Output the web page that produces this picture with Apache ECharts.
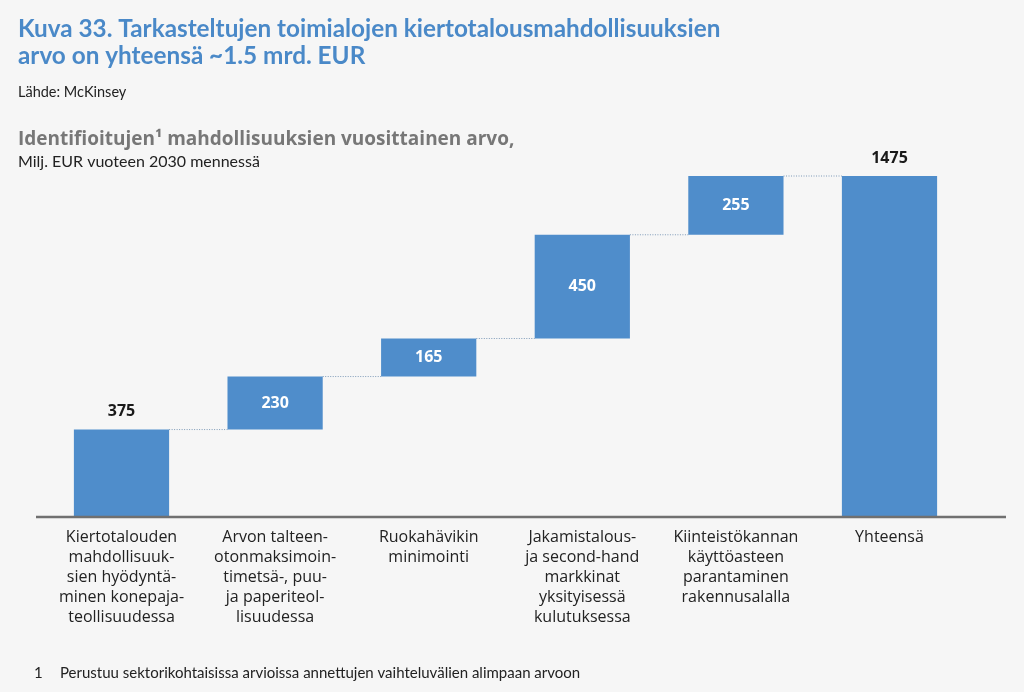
<!DOCTYPE html>
<html><head><meta charset="utf-8">
<script src="https://cdn.jsdelivr.net/npm/echarts@6/dist/echarts.min.js"></script>
<style>html,body{margin:0;padding:0;background:#f6f6f6;}#c{width:1024px;height:692px;}</style>
</head><body><div id="c"></div>
<script>
const categories = [
  'Kiertotalouden\nmahdollisuuk-\nsien hyödyntä-\nminen konepaja-\nteollisuudessa',
  'Arvon talteen-\notonmaksimoin-\ntimetsä-, puu-\nja paperiteol-\nlisuudessa',
  'Ruokahävikin\nminimointi',
  'Jakamistalous-\nja second-hand\nmarkkinat\nyksityisessä\nkulutuksessa',
  'Kiinteistökannan\nkäyttöasteen\nparantaminen\nrakennusalalla',
  'Yhteensä'
];
const values = [375, 230, 165, 450, 255, 1475];
const isTotal = [false, false, false, false, false, true];

const bases = [];
let run = 0;
values.forEach((v, i) => { if (isTotal[i]) { bases.push(0); } else { bases.push(run); run += v; } });
const ends = values.map((v, i) => bases[i] + v);

const BAR = '#4f8dcb';
const chart = echarts.init(document.getElementById('c'), null, {renderer: 'canvas'});
const FONT = '"Open Sans", "Noto Sans", sans-serif';
const LATO = 'Lato, "Open Sans", sans-serif';

chart.setOption({
  backgroundColor: '#f6f6f6',
  animation: false,
  title: [
    {text: 'Kuva 33. Tarkasteltujen toimialojen kiertotalousmahdollisuuksien\narvo on yhteensä ~1.5 mrd. EUR', left: 18, top: 16, padding: 0,
     textStyle: {color: '#4a89c8', fontSize: 24.3, fontWeight: 'bold', fontFamily: LATO, lineHeight: 27}},
    {text: 'Lähde: McKinsey', left: 18, top: 84, padding: 0, textStyle: {color: '#222', fontSize: 14.5, lineHeight: 16, fontWeight: 'normal', fontFamily: LATO}},
    {text: 'Identifioitujen¹ mahdollisuuksien vuosittainen arvo,', left: 18, top: 129, padding: 0,
     textStyle: {color: '#777', fontSize: 19, lineHeight: 22, fontWeight: 'bold', fontFamily: FONT}},
    {text: 'Milj. EUR vuoteen 2030 mennessä', left: 18, top: 153, padding: 0, textStyle: {color: '#222', fontSize: 16, lineHeight: 18, fontWeight: 'normal', fontFamily: LATO}},
    {text: '1', left: 34, top: 664, padding: 0, textStyle: {color: '#222', fontSize: 15, lineHeight: 18, fontWeight: 'normal', fontFamily: LATO}},
    {text: 'Perustuu sektorikohtaisissa arvioissa annettujen vaihteluvälien alimpaan arvoon', left: 60, top: 664, padding: 0,
     textStyle: {color: '#222', fontSize: 15, lineHeight: 18, fontWeight: 'normal', fontFamily: LATO}}
  ],
  grid: {left: 44.7, right: 1024 - 966.3, top: 176, bottom: 176},
  xAxis: {
    type: 'category', data: categories,
    axisLine: {show: false}, axisTick: {show: false},
    axisLabel: {color: '#222', fontSize: 16, fontFamily: FONT, lineHeight: 20, interval: 0, margin: 11, verticalAlign: 'top'}
  },
  yAxis: {type: 'value', min: 0, max: 1475, show: false, splitLine: {show: false}},
  series: [
    {type: 'bar', stack: 'w', data: bases, itemStyle: {color: 'transparent'}, barWidth: '62%', silent: true},
    {type: 'bar', stack: 'w', data: values.map((v, i) => ({
        value: v,
        label: (i === 0 || isTotal[i]) ?
          {show: true, position: 'top', color: '#1a1a1a', fontWeight: 'bold', fontSize: 16, fontFamily: FONT, distance: 10} :
          {show: true, position: 'inside', color: '#fff', fontWeight: 'bold', fontSize: 16, fontFamily: FONT}
      })),
      itemStyle: {color: BAR}, barWidth: '62%'},
    {type: 'custom', data: ends.slice(0, ends.length - 1).map((e, i) => [i, e]),
      renderItem: function (params, api) {
        const i = api.value(0), y = api.value(1);
        const p1 = api.coord([i, y]);
        const p2 = api.coord([i + 1, y]);
        const bw = api.size([1, 0])[0] * 0.62;
        return {type: 'line', shape: {x1: p1[0] + bw / 2, y1: p1[1], x2: p2[0] - bw / 2, y2: p2[1]},
          style: {stroke: '#7f9bb8', lineWidth: 1, lineDash: [1, 1.5]}};
      }, z: 1}
  ]
});

const y0 = chart.convertToPixel({yAxisIndex: 0}, 0);
chart.setOption({graphic: [{type: 'line', shape: {x1: 36, y1: y0 + 1, x2: 1006, y2: y0 + 1}, style: {stroke: '#707070', lineWidth: 2.5}, z: 10}]});
</script></body></html>
